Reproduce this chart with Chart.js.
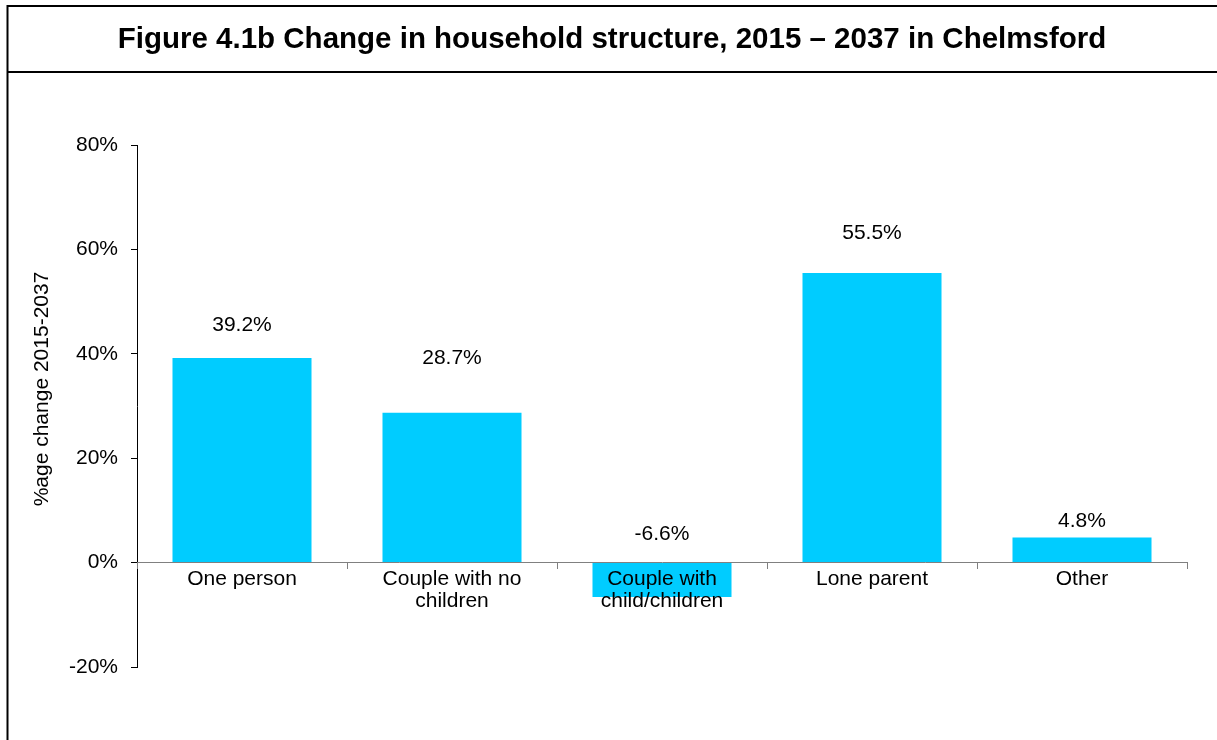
<!DOCTYPE html>
<html>
<head>
<meta charset="utf-8">
<script src="https://cdn.jsdelivr.net/npm/chart.js@4"></script>
<style>
  html, body { margin: 0; padding: 0; background: #fff; }
  #wrap { width: 1217px; height: 740px; }
</style>
</head>
<body>
<div id="wrap"><canvas id="myChart" width="1217" height="740"></canvas></div>
<script>
const categories = ['One person', ['Couple with no', 'children'], ['Couple with', 'child/children'], 'Lone parent', 'Other'];
const changePct = [39.2, 28.7, -6.6, 55.5, 4.8];
const yTicks = [-20, 0, 20, 40, 60, 80];
const chartTitle = 'Figure 4.1b Change in household structure, 2015 \u2013 2037 in Chelmsford';
const yTitle = '%age change 2015-2037';

const FONT = "'Liberation Sans', Arial, sans-serif";

// frame round the figure, heading, line under it, and the y title
const framePlugin = {
    id: 'frame',
    beforeDraw(chart) {
        const c = chart.ctx;
        c.save();
        c.strokeStyle = '#000';
        c.lineWidth = 2;
        c.beginPath();
        c.moveTo(7.5, 740);
        c.lineTo(7.5, 6);
        c.lineTo(1217, 6);
        c.moveTo(7.5, 72);
        c.lineTo(1217, 72);
        c.stroke();

        c.fillStyle = '#000';
        c.textAlign = 'center';
        c.textBaseline = 'middle';
        c.font = 'bold 29.5px ' + FONT;
        c.fillText(chartTitle, 612, 40);

        // y axis title, sits a little above the middle of the axis like the original
        c.translate(42, 389);
        c.rotate(-Math.PI / 2);
        c.font = '21px ' + FONT;
        c.fillText(yTitle, 0, 0);
        c.restore();
    }
};

// value labels above each bar (negative ones sit above the zero line)
const valueLabels = {
    id: 'valueLabels',
    afterDatasetsDraw(chart, args, opts) {
        const c = chart.ctx;
        const meta = chart.getDatasetMeta(0);
        const y = chart.scales.y;
        c.save();
        c.font = '21px ' + FONT;
        c.fillStyle = '#000';
        c.textAlign = 'center';
        c.textBaseline = 'middle';
        meta.data.forEach((bar, i) => {
            const v = changePct[i];
            const py = y.getPixelForValue(Math.max(v, 0)) - opts.offsets[i];
            c.fillText(v.toFixed(1) + '%', bar.x, py);
        });
        c.restore();
    }
};

new Chart(document.getElementById('myChart'), {
    type: 'bar',
    data: {
        labels: categories,
        datasets: [{
            data: changePct,
            backgroundColor: '#00CCFF',
            borderWidth: 0,
            barPercentage: 0.662,
            categoryPercentage: 1.0
        }]
    },
    options: {
        responsive: false,
        animation: false,
        layout: { padding: { left: 0, right: 30, top: 145, bottom: 73 } },
        plugins: {
            legend: { display: false },
            tooltip: { enabled: false },
            title: { display: false },
            valueLabels: { offsets: [33, 55, 28, 40, 16] }
        },
        scales: {
            x: {
                position: { y: 0 },
                afterFit(scale) { scale.height = 73; },
                border: { color: '#808080', width: 1, z: 1 },
                grid: { display: true, drawOnChartArea: false, drawTicks: true, tickLength: 6, color: '#808080', offset: true, z: 1 },
                ticks: {
                    z: 1,
                    color: '#000',
                    padding: 0,
                    maxRotation: 0,
                    autoSkip: false,
                    font: { family: FONT, size: 21, lineHeight: '22px' }
                }
            },
            y: {
                min: -20,
                max: 80,
                afterFit(scale) { scale.width = 137; },
                afterBuildTicks(scale) { scale.ticks = yTicks.map(v => ({ value: v })); },
                border: { color: '#000', width: 1 },
                grid: { display: true, drawOnChartArea: false, drawTicks: true, tickLength: 6, color: '#000' },
                ticks: {
                    color: '#000',
                    padding: 13,
                    font: { family: FONT, size: 21 },
                    callback: v => v + '%'
                }
            }
        }
    },
    plugins: [framePlugin, valueLabels]
});
</script>
</body>
</html>
